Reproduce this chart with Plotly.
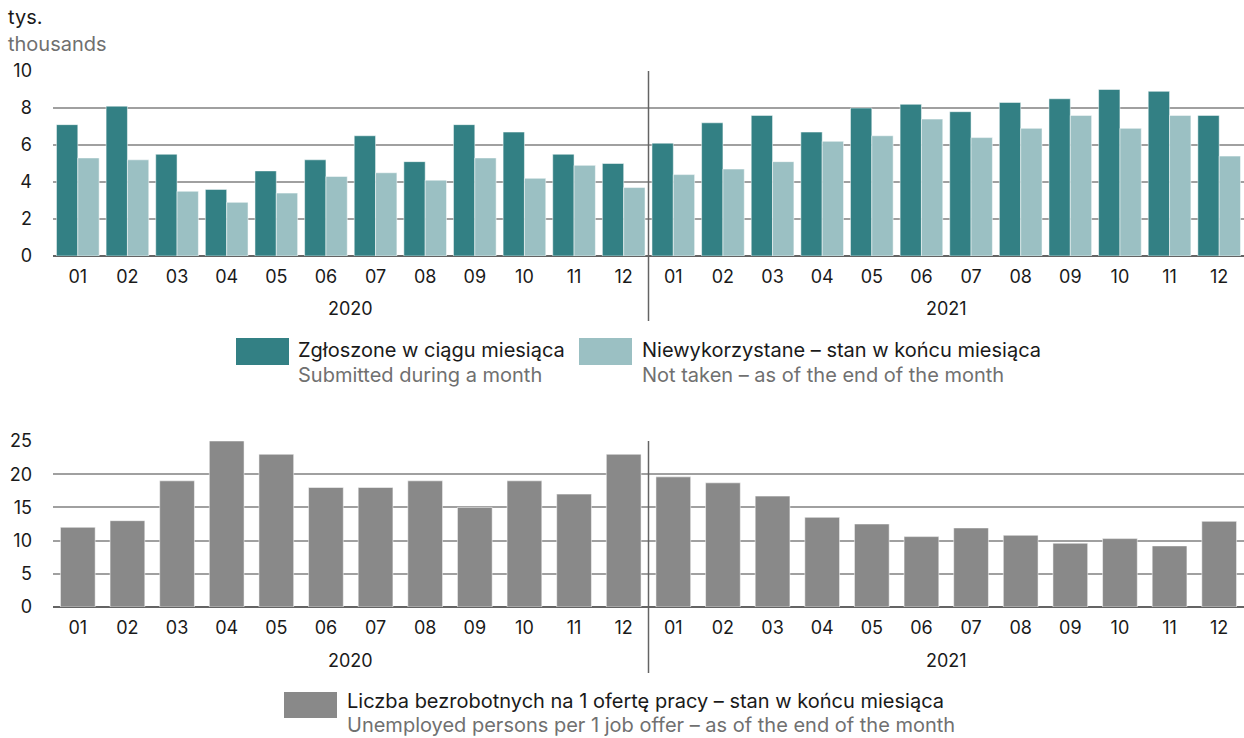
import plotly.graph_objects as go
from plotly.subplots import make_subplots

# dane
years = ["2020", "2021"]
months = ["01", "02", "03", "04", "05", "06", "07", "08", "09", "10", "11", "12"]

submitted = [7.1, 8.1, 5.5, 3.6, 4.6, 5.2, 6.5, 5.1, 7.1, 6.7, 5.5, 5.0,
             6.1, 7.2, 7.6, 6.7, 8.0, 8.2, 7.8, 8.3, 8.5, 9.0, 8.9, 7.6]
not_taken = [5.3, 5.2, 3.5, 2.9, 3.4, 4.3, 4.5, 4.1, 5.3, 4.2, 4.9, 3.7,
             4.4, 4.7, 5.1, 6.2, 6.5, 7.4, 6.4, 6.9, 7.6, 6.9, 7.6, 5.4]
unemployed_per_offer = [12, 13, 19, 25, 23, 18, 18, 19, 15, 19, 17, 23,
                        19.6, 18.7, 16.7, 13.5, 12.5, 10.6, 11.9, 10.8, 9.6, 10.3, 9.2, 12.9]

DARK = "#338084"
LIGHT = "#9bc0c3"
GRAY = "#898989"
FONT = "Inter, Open Sans, sans-serif"
FS = 18
FS_TEXT = 20
W, H = 1244, 738


def py(px):
    return 1 - px / H


def px_x(px):
    return px / W


periods = [f"{y}-{m}" for y in years for m in months]
month_labels = [m for y in years for m in months]

fig = make_subplots(rows=2, cols=1)

outline = dict(color="rgba(255,255,255,0.5)", width=1)
fig.add_trace(go.Bar(x=periods, y=submitted, marker_color=DARK, marker_line=outline), row=1, col=1)
fig.add_trace(go.Bar(x=periods, y=not_taken, marker_color=LIGHT, marker_line=outline), row=1, col=1)
fig.add_trace(go.Bar(x=periods, y=unemployed_per_offer, marker_color=GRAY, width=0.7,
                     marker_line=outline), row=2, col=1)

fig.update_xaxes(
    type="category", tickvals=periods, ticktext=month_labels, automargin=False,
    showgrid=False, ticks="", ticklabelstandoff=8,
    tickfont=dict(family=FONT, size=FS, color="#1a1a1a"),
    domain=[px_x(53), 1.0],
)
fig.update_yaxes(
    showgrid=True, gridcolor="#a0a0a0", gridwidth=1.5, automargin=False,
    zeroline=True, zerolinecolor="#646464", zerolinewidth=2,
    ticks="", ticklabelstandoff=20,
    tickfont=dict(family=FONT, size=FS, color="#1a1a1a"),
)
fig.update_yaxes(range=[0, 10], dtick=2, domain=[py(256), py(71)], row=1, col=1)
fig.update_yaxes(range=[0, 25], dtick=5, domain=[py(607), py(441)], row=2, col=1)

# linie oddzielające lata
fig.add_shape(type="line", xref="x domain", yref="paper", x0=0.5, x1=0.5,
              y0=py(321), y1=py(71), line=dict(color="#646464", width=1.5))
fig.add_shape(type="line", xref="x2 domain", yref="paper", x0=0.5, x1=0.5,
              y0=py(673), y1=py(441), line=dict(color="#646464", width=1.5))

annotations = []


def text(xp, yp, s, color, xref="paper", anchor="left", size=FS_TEXT):
    annotations.append(dict(x=xp, y=py(yp), xref=xref, yref="paper", text=s,
                            showarrow=False, xanchor=anchor, yanchor="middle",
                            font=dict(family=FONT, size=size, color=color)))


# lata pod osiami
for i, y in enumerate(years):
    text((i + 0.5) / len(years), 308, y, "#1a1a1a", xref="x domain", anchor="center", size=FS)
    text((i + 0.5) / len(years), 660, y, "#1a1a1a", xref="x2 domain", anchor="center", size=FS)

text(px_x(6), 17, "tys.", "#1a1a1a")
text(px_x(6), 44, "thousands", "#707070")

# legenda
swatches = [
    (236, 338, 289, 365, DARK),
    (579, 338, 632, 365, LIGHT),
    (284, 692, 337, 718, GRAY),
]
for x0, y0, x1, y1, c in swatches:
    fig.add_shape(type="rect", xref="paper", yref="paper", x0=px_x(x0), x1=px_x(x1),
                  y0=py(y1), y1=py(y0), fillcolor=c, line_width=0)

text(px_x(296), 350, "Zgłoszone w ciągu miesiąca", "#1a1a1a")
text(px_x(296), 375, "Submitted during a month", "#707070")
text(px_x(640), 350, "Niewykorzystane – stan w końcu miesiąca", "#1a1a1a")
text(px_x(640), 375, "Not taken – as of the end of the month", "#707070")
text(px_x(345), 701, "Liczba bezrobotnych na 1 ofertę pracy – stan w końcu miesiąca", "#1a1a1a")
text(px_x(345), 725, "Unemployed persons per 1 job offer – as of the end of the month", "#707070")

fig.update_layout(
    width=W, height=H, margin=dict(l=0, r=0, t=0, b=0, autoexpand=False),
    plot_bgcolor="white", paper_bgcolor="white",
    barmode="group", bargap=0.14, bargroupgap=0,
    showlegend=False, annotations=annotations,
    font=dict(family=FONT, size=FS),
)

fix_page = "document.body.style.margin='0';"
fig.write_html("out.html", config={"displayModeBar": False}, post_script=fix_page)
